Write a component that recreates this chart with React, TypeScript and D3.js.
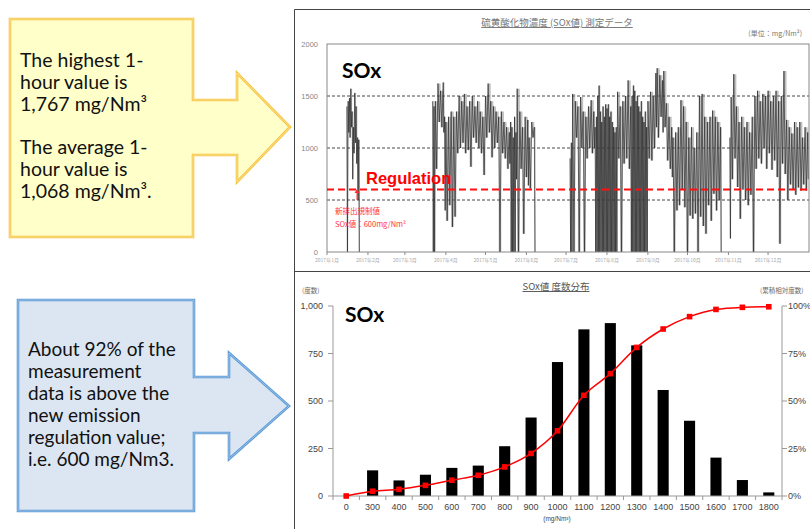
import React from 'react';
import * as d3 from 'd3';

const W = 810;
const H = 529;

// ---------- top chart: hourly SOx (binned envelope) ----------
const MONTH_LABELS = ['2017年1月', '2017年2月', '2017年3月', '2017年4月', '2017年5月', '2017年6月', '2017年7月', '2017年8月', '2017年9月', '2017年10月', '2017年11月', '2017年12月'];
const SOX_Y_TICKS = [0, 500, 1000, 1500, 2000];
const SOX_GRID = [500, 1000, 1500];
const REGULATION = 600;

const SOX_DAY = [
  15, 16, 17, 18, 19, 20, 21, 22, 23, 24,
  80, 81, 82, 84, 86, 88, 89, 90, 92, 94, 96, 98, 100, 102, 104, 106, 108, 110, 112, 114, 116, 118, 120, 122, 124, 126, 128, 130, 132, 134, 136, 138, 139, 140, 141, 142, 143, 144, 146, 148, 150, 152, 153, 155, 157,
  184, 185, 186, 188, 190, 192, 194, 196, 198, 200, 202,
  203, 204, 205, 206, 207, 208, 209, 210, 211, 212, 213, 214, 215, 216, 217, 218, 219,
  220, 222, 224, 226, 228,
  230, 231, 232, 233, 234, 235, 236, 237, 238, 239, 240, 241, 242,
  243, 245, 247, 249, 250, 252, 254, 255, 257, 259, 261, 262, 264, 266, 268, 270, 272, 274, 276, 278, 280, 282, 284, 286, 288, 290, 292, 294, 296, 298,
  305, 306, 308, 310, 312, 314, 316, 318, 320, 322, 324, 326, 328, 330, 332, 334, 336, 338, 340, 342, 344, 346, 348, 350, 352, 354, 356, 358, 360, 362, 364,
];
const SOX_HIGH = [
  1400, 1450, 1480, 1570, 1350, 1200, 1530, 1400, 1100, 1080,
  1450, 1400, 1450, 1620, 1550, 1630, 1300, 1250, 1300, 1350, 1300, 1350, 1500, 1450, 1520, 1400, 1450, 1500, 1400, 1450, 1350, 1300, 1500, 1620, 1450, 1400, 1350, 1300, 1350, 1250, 1200, 1150, 1250, 1200, 1100, 1300, 1150, 1570, 1350, 1200, 1300, 1270, 1100, 1250, 1200,
  900, 1050, 1520, 1450, 1400, 1490, 1350, 1300, 1400, 1460, 1350,
  1200, 1300, 1500, 1600, 1350, 1250, 1400, 1300, 1420, 1380, 1420, 1300, 1350, 1250, 1200, 1150, 1200,
  1540, 1400, 1450, 1500, 1650,
  1400, 1500, 1600, 1550, 1450, 1500, 1400, 1350, 1450, 1300, 1250, 1350, 1200,
  1450, 1540, 1500, 1720, 1767, 1700, 1650, 1740, 1430, 1300, 1200, 1100, 1150, 1200, 1460, 1400, 1250, 1100, 1200, 1000, 1150, 1500, 1520, 1300, 1250, 1300, 1360, 1300, 1250, 1200,
  1100, 1490, 1710, 1400, 1250, 1300, 1200, 1250, 1150, 1300, 1500, 1550, 1450, 1520, 1500, 1550, 1450, 1500, 1550, 1450, 1500, 1740, 1270, 1200, 1140, 1250, 1200, 1250, 1100, 1200, 1150,
];
const SOX_LOW = [
  0, 1150, 1100, 1200, 700, 950, 1050, 850, 500, 0,
  0, 0, 800, 1250, 1200, 1150, 400, 300, 450, 240, 340, 950, 1000, 1050, 950, 980, 820, 1100, 1050, 1000, 950, 740, 1100, 1150, 910, 1000, 1050, 0, 950, 900, 800, 850, 0, 0, 0, 0, 700, 0, 800, 175, 720, 640, 610, 1100, 0,
  0, 0, 0, 1100, 0, 1000, 0, 900, 1000, 950, 1000,
  0, 0, 0, 0, 0, 0, 0, 0, 0, 0, 0, 0, 0, 0, 0, 0, 0,
  900, 0, 850, 900, 800,
  0, 0, 0, 0, 0, 0, 0, 0, 0, 0, 0, 0, 0,
  900, 880, 1000, 1200, 1100, 1300, 1150, 1200, 880, 800, 720, 0, 400, 450, 600, 430, 0, 350, 320, 370, 0, 340, 250, 176, 450, 300, 560, 400, 500, 0,
  130, 700, 900, 625, 320, 600, 500, 450, 550, 0, 800, 900, 850, 1000, 800, 950, 790, 880, 720, 80, 850, 750, 500, 650, 600, 550, 620, 590, 650, 590, 700,
];

// ---------- bottom chart: frequency distribution ----------
const HIST_BINS = ['0', '300', '400', '500', '600', '700', '800', '900', '1000', '1100', '1200', '1300', '1400', '1500', '1600', '1700', '1800'];
const HIST_COUNT = [0, 135, 82, 112, 148, 160, 262, 413, 705, 877, 910, 793, 558, 396, 202, 84, 19];
const HIST_CUM = [0, 2.5, 3.5, 5.6, 8.3, 10.9, 15.3, 22.4, 34.3, 53, 64.4, 78.2, 87.9, 94.4, 98.2, 99.3, 99.6];
const COUNT_TICKS = [0, 250, 500, 750, 1000];
const PCT_TICKS = [0, 25, 50, 75, 100];

const YELLOW_LINES = ['The highest 1-', 'hour value is', '1,767 mg/Nm³', '', 'The average 1-', 'hour value is', '1,068 mg/Nm³.'];
const BLUE_LINES = ['About 92% of the', 'measurement', 'data is above the', 'new emission', 'regulation value;', 'i.e. 600 mg/Nm3.'];

const JP = '"Noto Sans CJK JP", sans-serif';
const ARIAL = '"Liberation Sans", Arial, sans-serif';
const CAL = 'Lato, "Open Sans", sans-serif';

export default function App() {
  // top chart scales
  const t0 = new Date(2017, 0, 1).getTime();
  const x = d3.scaleTime().domain([new Date(2017, 0, 1), new Date(2018, 0, 1)]).range([327, 809]);
  const y = d3.scaleLinear().domain([0, 2000]).range([252, 44]);
  const dayX = (d: number) => x(new Date(t0 + d * 86400000));

  const segments: [number, number][][] = [];
  const bands: [number, number, number][][] = [];
  let cur: [number, number][] = [];
  let band: [number, number, number][] = [];
  for (let i = 0; i < SOX_DAY.length; i++) {
    const d = SOX_DAY[i];
    const next = SOX_DAY[i + 1];
    const cont = next !== undefined && next - d <= 4;
    const w = cont ? next - d : 1;
    cur.push([d, SOX_HIGH[i]], [d + w / 2, SOX_LOW[i]]);
    band.push([d, SOX_LOW[i], SOX_HIGH[i]], [d + w, SOX_LOW[i], SOX_HIGH[i]]);
    if (!cont) {
      segments.push(cur);
      bands.push(band);
      cur = [];
      band = [];
    }
  }
  const line = d3.line<[number, number]>().x((p) => dayX(p[0])).y((p) => y(p[1]));
  const area = d3
    .area<[number, number, number]>()
    .x((p) => dayX(p[0]))
    .y0((p) => y(p[1]))
    .y1((p) => y(p[2]))
    .curve(d3.curveMonotoneX);
  const monthDates = MONTH_LABELS.map((_, i) => new Date(2017, i, 1));

  // bottom chart scales
  const xb = d3.scaleBand<string>().domain(HIST_BINS).range([333, 782]).paddingInner(0.58).paddingOuter(0.29);
  const yb = d3.scaleLinear().domain([0, 1000]).range([496, 306]);
  const yp = d3.scaleLinear().domain([0, 100]).range([496, 306]);
  const step = xb.step();
  const cx = (c: string) => (xb(c) as number) + xb.bandwidth() / 2;
  const cumLine = d3
    .line<number>()
    .x((_, i) => cx(HIST_BINS[i]))
    .y((v) => yp(v))
    .curve(d3.curveMonotoneX);

  const yellowPts = [[10, 19], [193, 19], [193, 100], [237, 100], [237, 73], [290, 127], [237, 182], [237, 155], [193, 155], [193, 237], [10, 237]];
  const bluePts = [[18, 300], [194, 300], [194, 377], [229, 377], [229, 353], [289, 406], [229, 459], [229, 433], [194, 433], [194, 511], [18, 511]];

  return (
    <svg width={W} height={H} style={{ position: 'absolute', left: 0, top: 0, background: '#fff' }}>
      <rect x={0} y={0} width={W} height={H} fill="#fff" />

      {/* callouts */}
      <polygon points={yellowPts.map((p) => p.join(',')).join(' ')} fill="#FFFFC9" stroke="#F6C443" strokeWidth={2.6} strokeLinejoin="miter" />
      <polygon points={yellowPts.map((p) => p.join(',')).join(' ')} fill="none" stroke="#FFE9A0" strokeWidth={0.8} />
      <text fontFamily={CAL} fontSize={19.5} fill="#111">
        {YELLOW_LINES.map((l, i) => (
          <tspan key={i} x={20} y={67 + i * 21.8}>{l}</tspan>
        ))}
      </text>
      <polygon points={bluePts.map((p) => p.join(',')).join(' ')} fill="#DCE6F2" stroke="#5B9BD5" strokeWidth={2.6} />
      <polygon points={bluePts.map((p) => p.join(',')).join(' ')} fill="none" stroke="#A9C9EC" strokeWidth={0.8} />
      <text fontFamily={CAL} fontSize={19} fill="#111">
        {BLUE_LINES.map((l, i) => (
          <tspan key={i} x={28} y={356 + i * 21.9}>{l}</tspan>
        ))}
      </text>

      {/* frame lines */}
      <line x1={294.5} y1={9.5} x2={294.5} y2={H} stroke="#444" strokeWidth={1} />
      <line x1={294.5} y1={9.5} x2={W} y2={9.5} stroke="#444" strokeWidth={1} />
      <line x1={294.5} y1={271.5} x2={W} y2={271.5} stroke="#444" strokeWidth={1} />

      {/* ===== top chart ===== */}
      <text x={557} y={26} textAnchor="middle" fontFamily={JP} fontSize={9.5} fill="#777" textDecoration="underline">硫黄酸化物濃度 (SOx値) 測定データ</text>
      <text x={802} y={36} textAnchor="end" fontFamily={JP} fontSize={7} fill="#777">(単位：mg/Nm²)</text>
      {SOX_GRID.map((v) => (
        <line key={v} x1={327} x2={809} y1={y(v)} y2={y(v)} stroke="#333" strokeWidth={0.9} strokeDasharray="3,2" />
      ))}
      {bands.map((b, i) => (
        <path key={i} d={area(b) as string} fill="#8c8c8c" fillOpacity={0.55} stroke="none" />
      ))}
      {segments.map((seg, i) => (
        <path key={i} d={line(seg) as string} fill="none" stroke="#2a2a2a" strokeWidth={0.8} strokeOpacity={0.85} />
      ))}
      <rect x={327} y={44} width={482} height={208} fill="none" stroke="#888" strokeWidth={1} />
      {SOX_Y_TICKS.map((v) => (
        <text key={v} x={318} y={y(v) + 2.5} textAnchor="end" fontFamily={ARIAL} fontSize={7.5} fill="#888">{v}</text>
      ))}
      {monthDates.map((d, i) => (
        <g key={i}>
          <line x1={x(d)} x2={x(d)} y1={252} y2={255} stroke="#888" />
          <text x={x(d)} y={262} textAnchor="middle" fontFamily={JP} fontSize={5} fill="#aaa">{MONTH_LABELS[i]}</text>
        </g>
      ))}
      <line x1={327} x2={809} y1={y(REGULATION)} y2={y(REGULATION)} stroke="#FF1010" strokeWidth={2} strokeDasharray="7,4" />
      <text x={366} y={184} fontFamily={ARIAL} fontWeight="bold" fontSize={16.5} fill="#FF0000">Regulation</text>
      <text x={342} y={78} fontFamily={CAL} fontWeight="bold" fontSize={21} fill="#000">SOx</text>
      <line x1={357} x2={357} y1={200} y2={192} stroke="#FF3030" strokeWidth={1} />
      <path d="M354.5,193 L357,189 L359.5,193 Z" fill="#FF3030" />
      <text x={335} y={214} fontFamily={JP} fontSize={7.5} fill="#FF3030">新排出規制値</text>
      <text x={335} y={227} fontFamily={JP} fontSize={7.5} fill="#FF3030">SOx値：600mg/Nm²</text>

      {/* ===== bottom chart ===== */}
      <text x={556} y={290} textAnchor="middle" fontFamily={JP} fontSize={9.5} fill="#555" textDecoration="underline">SOx値 度数分布</text>
      <text x={302} y={293} fontFamily={JP} fontSize={6.5} fill="#666">(度数)</text>
      <text x={760} y={293} fontFamily={JP} fontSize={6.5} fill="#666">(累積相対度数)</text>
      <text x={345} y={322} fontFamily={CAL} fontWeight="bold" fontSize={21} fill="#000">SOx</text>

      {HIST_BINS.map((c, i) => (
        <rect key={c} x={xb(c)} y={yb(HIST_COUNT[i])} width={xb.bandwidth()} height={496 - yb(HIST_COUNT[i])} fill="#000" />
      ))}
      <line x1={333} x2={333} y1={306} y2={496} stroke="#999" />
      <line x1={782} x2={782} y1={306} y2={496} stroke="#999" />
      <line x1={333} x2={782} y1={496} y2={496} stroke="#999" />
      {COUNT_TICKS.map((v) => (
        <g key={v}>
          <line x1={328} x2={333} y1={yb(v)} y2={yb(v)} stroke="#999" />
          <text x={323} y={yb(v) + 3.2} textAnchor="end" fontFamily={ARIAL} fontSize={9} fill="#444">{d3.format(',')(v)}</text>
        </g>
      ))}
      {PCT_TICKS.map((v) => (
        <g key={v}>
          <line x1={782} x2={787} y1={yp(v)} y2={yp(v)} stroke="#999" />
          <text x={788} y={yp(v) + 3.2} fontFamily={ARIAL} fontSize={9} fill="#444">{v}%</text>
        </g>
      ))}
      {d3.range(HIST_BINS.length + 1).map((i) => (
        <line key={i} x1={333 + i * step} x2={333 + i * step} y1={496} y2={500} stroke="#999" />
      ))}
      {HIST_BINS.map((c) => (
        <text key={c} x={cx(c)} y={510} textAnchor="middle" fontFamily={ARIAL} fontSize={9} fill="#444">{c}</text>
      ))}
      <text x={557} y={521} textAnchor="middle" fontFamily={ARIAL} fontSize={6.5} fill="#444">(mg/Nm³)</text>

      <path d={cumLine(HIST_CUM) as string} fill="none" stroke="#FF0000" strokeWidth={1.5} />
      {HIST_CUM.map((v, i) => (
        <rect key={i} x={cx(HIST_BINS[i]) - 2.8} y={yp(v) - 2.8} width={5.6} height={5.6} fill="#FF0000" />
      ))}
    </svg>
  );
}
